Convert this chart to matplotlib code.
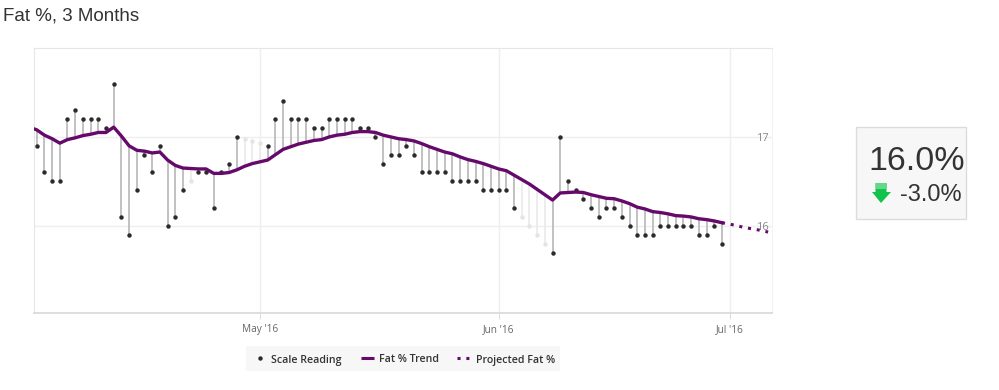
import pandas as pd
import matplotlib
matplotlib.use('Agg')
from matplotlib import pyplot as plt
from matplotlib.patches import Polygon, Rectangle

# data
first_reading = '2016-04-02'
readings = [16.9, 16.6, 16.5, 16.5, 17.2, 17.3, 17.2, 17.2, 17.2, 17.1,
            17.6, 16.1, 15.9, 16.4, 16.8, 16.6, 16.9, 16.0, 16.1, 16.4,
            16.5, 16.6, 16.6, 16.2, 16.6, 16.7, 17.0, 16.98, 16.95, 16.93,
            16.9, 17.2, 17.4, 17.2, 17.2, 17.2, 17.1, 17.1, 17.2, 17.2,
            17.2, 17.2, 17.1, 17.1, 17.0, 16.7, 16.8, 16.8, 16.9, 16.8,
            16.6, 16.6, 16.6, 16.6, 16.5, 16.5, 16.5, 16.5, 16.4, 16.4,
            16.4, 16.4, 16.2, 16.1, 16.0, 15.9, 15.8, 15.7, 17.0, 16.5,
            16.4, 16.3, 16.2, 16.1, 16.2, 16.2, 16.1, 16.0, 15.9, 15.9,
            15.9, 16.0, 16.0, 16.0, 16.0, 16.0, 15.9, 15.9, 16.0, 15.8]
trend = [17.08, 17.02, 16.98, 16.93, 16.97, 16.99, 17.015, 17.03, 17.05, 17.05,
         17.11, 17.01, 16.90, 16.85, 16.84, 16.82, 16.83, 16.74, 16.68, 16.65,
         16.645, 16.64, 16.64, 16.59, 16.59, 16.60, 16.63, 16.67, 16.70, 16.72,
         16.74, 16.80, 16.86, 16.89, 16.92, 16.94, 16.96, 16.97, 17.0, 17.02,
         17.03, 17.05, 17.06, 17.06, 17.05, 17.02, 17.0, 16.98, 16.97, 16.955,
         16.925, 16.89, 16.86, 16.83, 16.81, 16.775, 16.745, 16.725, 16.70, 16.67,
         16.64, 16.62, 16.57, 16.52, 16.47, 16.41, 16.35, 16.29, 16.37, 16.375,
         16.38, 16.375, 16.35, 16.33, 16.31, 16.305, 16.28, 16.25, 16.21, 16.19,
         16.16, 16.15, 16.135, 16.115, 16.11, 16.10, 16.08, 16.07, 16.055, 16.035]
trend_start = 17.11
projected = [16.035, 16.02, 16.0, 15.98, 15.965, 15.95, 15.93]
faded_days = ['2016-04-22', '2016-04-29', '2016-04-30', '2016-05-01',
              '2016-06-04', '2016-06-05', '2016-06-06', '2016-06-07']
tick_dates = ['2016-05-01', '2016-06-01', '2016-07-01']
tick_labels = ["May '16", "Jun '16", "Jul '16"]
y_ticks = [16, 17]

W, H = 999, 390
PURPLE = '#650a6b'
DOT = '#2b2b2b'
GRID = '#efefef'

days = pd.date_range(first_reading, periods=len(readings))
trend_days = pd.date_range('2016-04-01', periods=len(trend) + 1)
proj_days = pd.date_range(days[-1], periods=len(projected))
faded = pd.to_datetime(faded_days)

fig = plt.figure(figsize=(W / 100, H / 100), dpi=100)
ax = fig.add_axes([34 / W, 1 - 313 / H, (772 - 34) / W, (313 - 48) / H])

for d, r, t in zip(days, readings, trend):
    is_faded = d in faded
    ax.plot([d, d], [r, t], color='#ececec' if is_faded else '#bcbcbc', lw=1.3,
            zorder=2, solid_capstyle='butt')
    ax.plot(d, r, 'o', ms=3.2, mew=0, color='#e4e4e4' if is_faded else DOT, zorder=3)

ax.plot(trend_days, [trend_start] + trend, color=PURPLE, lw=2.4, zorder=4,
        solid_joinstyle='round')
ax.plot(proj_days, projected, color=PURPLE, lw=2.2, zorder=4, linestyle=(0, (1, 1.9)))

ax.set_xlim(pd.Timestamp('2016-05-01') - pd.Timedelta(days=29.35),
            pd.Timestamp('2016-05-01') + pd.Timedelta(days=66.5))
ax.set_ylim(15.02, 18.0)
ax.set_xticks(pd.to_datetime(tick_dates))
ax.set_xticklabels(tick_labels, fontfamily='Open Sans', fontsize=7.2, color='#666666')
ax.set_yticks(y_ticks)
ax.set_yticklabels([])
ax.grid(True, color=GRID, lw=1)
ax.set_axisbelow(True)
ax.tick_params(axis='x', length=4, color='#d5dfee', pad=4)
ax.tick_params(axis='y', length=0)
for side in ['left', 'top']:
    ax.spines[side].set_color('#e6e6e6')
ax.spines['right'].set_color('#f2f2f2')
ax.spines['bottom'].set_color('#d8d8d8')
ax.spines['bottom'].set_linewidth(1.2)
for v in y_ticks:
    ax.text(0.9875, v, str(v), transform=ax.get_yaxis_transform(), ha='center',
            va='center_baseline', fontsize=8, color='#888888', fontfamily='Open Sans', zorder=5)

# overlay in pixel coordinates for the title, legend and summary box
over = fig.add_axes([0, 0, 1, 1], facecolor='none')
over.set_xlim(0, W)
over.set_ylim(H, 0)
over.axis('off')

over.text(3, 16, 'Fat %, 3 Months', fontfamily='Liberation Sans', fontsize=13.5,
          color='#333333', va='center')

over.add_patch(Rectangle((246, 346), 314, 25, fc='#f7f7f7', ec='none'))
over.plot([260], [358], 'o', ms=3.2, mew=0, color=DOT)
over.plot([361, 374], [358, 358], color=PURPLE, lw=2.2, solid_capstyle='butt')
over.plot([457, 470], [358, 358], color=PURPLE, lw=2.2, linestyle=(0, (1, 1.9)))
for x, label in [(271, 'Scale Reading'), (379, 'Fat % Trend'), (476, 'Projected Fat %')]:
    over.text(x, 358.5, label, fontfamily='Open Sans', fontweight='semibold', fontsize=7.7,
              color='#333333', va='center_baseline')

over.add_patch(Rectangle((855.5, 126.5), 110, 92, fc='#f7f7f7', ec='#dcdcdc', lw=1))
over.text(917, 161, '16.0%', fontfamily='Liberation Sans', fontsize=24.5, color='#333333',
          ha='center', va='center')
over.text(930.5, 195, '-3.0%', fontfamily='Liberation Sans', fontsize=17, color='#333333',
          ha='center', va='center')
over.add_patch(Polygon([(875.5, 183), (886.5, 183), (886.5, 192), (891, 192), (881, 203),
                        (872, 192), (875.5, 192)], fc='#12c24a', ec='none'))
over.add_patch(Rectangle((875.5, 183), 11, 6, fc='#62d888', ec='none'))

fig.savefig('out.png', dpi=100)
